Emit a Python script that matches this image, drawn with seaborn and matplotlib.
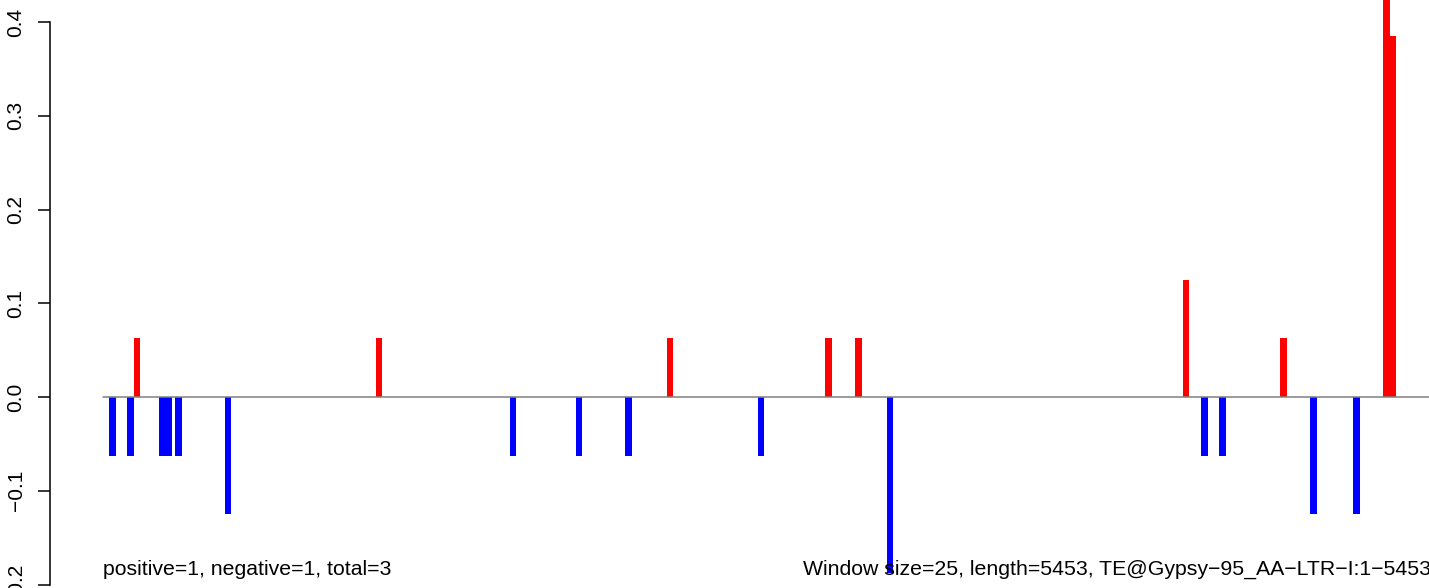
import numpy as np
import pandas as pd
import matplotlib
matplotlib.use("Agg")
import matplotlib.pyplot as plt
import seaborn as sns

# window start positions (bp) and score per window
positions = [35, 105, 130, 225, 250, 290, 480, 1060, 1575, 1830, 2020, 2180,
             2530, 2790, 2905, 3025, 4165, 4235, 4305, 4540, 4655, 4820, 4935, 4960]
values = [-0.0625, -0.0625, 0.0625, -0.0625, -0.0625, -0.0625, -0.125, 0.0625,
          -0.0625, -0.0625, -0.0625, 0.0625, -0.0625, 0.0625, 0.0625, -0.1875,
          0.125, -0.0625, -0.0625, 0.0625, -0.125, -0.125, 0.45, 0.385]
seq_length = 5453
y_ticks = [-0.2, -0.1, 0.0, 0.1, 0.2, 0.3, 0.4]
left_note = "positive=1, negative=1, total=3"
right_note = "Window size=25, length=5453, TE@Gypsy\u221295_AA\u2212LTR\u2212I:1\u22125453"

sns.set_style("ticks")
plt.rcParams["font.family"] = ["Liberation Sans", "DejaVu Sans"]
plt.rcParams["text.color"] = "black"

df = pd.DataFrame({"pos": positions, "score": values})
df["sign"] = np.where(df["score"] > 0, "pos", "neg")

fig = plt.figure(figsize=(14.29, 5.88), dpi=100)
ax = fig.add_axes([50 / 1429, 0, 1379 / 1429, 1])

sns.barplot(data=df, x="pos", y="score", hue="sign",
            palette={"pos": "#FF0000", "neg": "#0000FF"},
            native_scale=True, orient="x", dodge=False, width=1.0,
            saturation=1, errorbar=None, linewidth=0, legend=False, ax=ax)

# zero baseline along the sequence
ax.plot([0, seq_length], [0, 0], color="#808080", linewidth=1.1, zorder=3)

ax.set_xlim(-205, 5099)
ax.set_ylim(-0.2037, 0.4235)
ax.set_xlabel("")
ax.set_ylabel("")

for side in ["top", "right", "bottom"]:
    ax.spines[side].set_visible(False)
ax.spines["left"].set_bounds(-0.2, 0.4)
ax.spines["left"].set_linewidth(1.1)
ax.spines["left"].set_color("black")
ax.set_xticks([])
ax.set_yticks(y_ticks)
ax.set_yticklabels([f"{t:.1f}".replace("-", "\u2212") for t in y_ticks])
ax.tick_params(axis="y", length=8.6, width=1.1, pad=9, labelsize=15,
               colors="black", direction="out")
plt.setp(ax.get_yticklabels(), rotation=90, va="center")

ax.text(0, -0.1835, left_note, fontsize=15.3, color="black", ha="left", va="center")
ax.text(2691, -0.1835, right_note, fontsize=15.3, color="black", ha="left", va="center")

fig.savefig("out.png", dpi=100)
plt.close()
